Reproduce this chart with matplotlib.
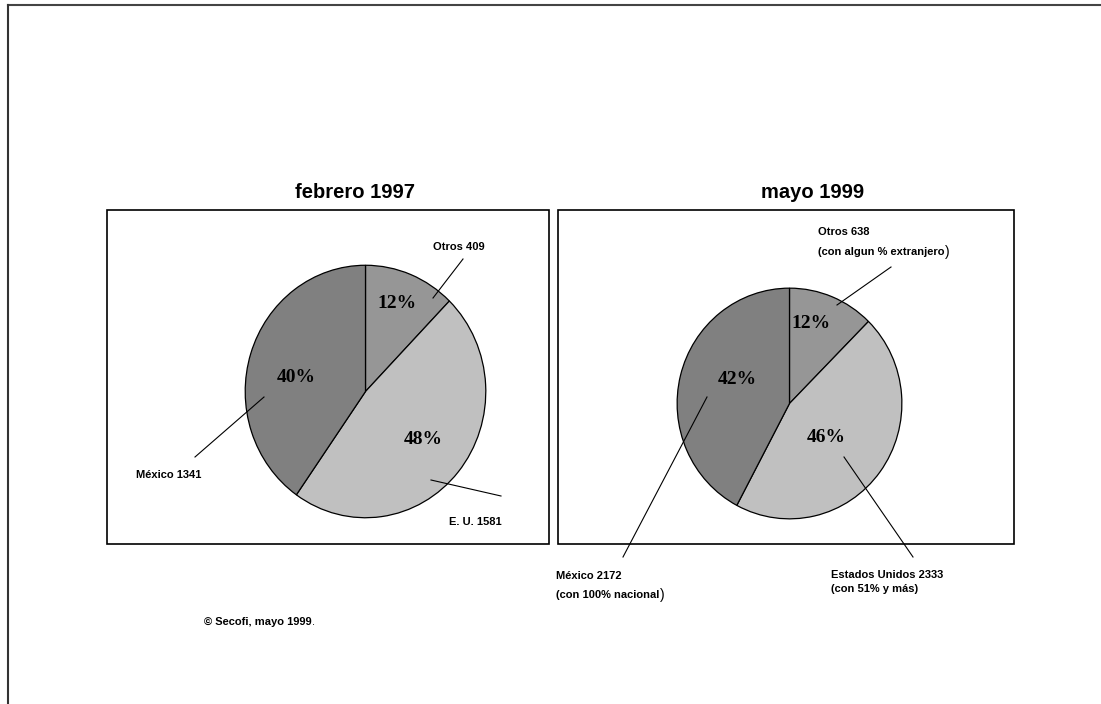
import matplotlib.pyplot as plt
from matplotlib.patches import Rectangle

# Empresas maquiladoras por origen de capital
slices = ["Otros", "Estados Unidos", "México"]
feb97 = [409, 1581, 1341]
may99 = [638, 2333, 2172]
pct_feb97 = ["12%", "48%", "40%"]
pct_may99 = ["12%", "46%", "42%"]
colors = ["#969696", "#c0c0c0", "#808080"]

W, H = 1101, 704
fig = plt.figure(figsize=(W / 100, H / 100), dpi=100)

sans = "Liberation Sans"
serif = "Liberation Serif"


def pie_axes(x0, x1, y0, y1):
    return fig.add_axes([x0 / W, 1 - y1 / H, (x1 - x0) / W, (y1 - y0) / H])


def draw_pie(ax, values):
    ax.pie(values, colors=colors, startangle=90, counterclock=False,
           wedgeprops=dict(edgecolor="black", linewidth=0.9))
    ax.set_aspect("auto")
    ax.set_xlim(-1.01, 1.01)
    ax.set_ylim(-1.01, 1.01)


ax1 = pie_axes(244, 487, 264, 519)
draw_pie(ax1, feb97)
ax2 = pie_axes(676, 903, 287, 520)
draw_pie(ax2, may99)

# overlay axes in pixel units (y down) for frame, boxes, lines and text
bg = fig.add_axes([0, 0, 1, 1])
bg.set_xlim(0, W)
bg.set_ylim(H, 0)
bg.axis("off")
bg.patch.set_alpha(0)

# page frame
bg.plot([8, W], [5, 5], color="#444444", lw=1.5)
bg.plot([8, 8], [5, H], color="#333333", lw=1.5)

# panel boxes
bg.add_patch(Rectangle((107, 210), 442, 334, fill=False, ec="black", lw=1.2))
bg.add_patch(Rectangle((558, 210), 456, 334, fill=False, ec="black", lw=1.2))

bg.text(355, 192, "febrero 1997", ha="center", va="center",
        family=sans, weight="bold", fontsize=14.5)
bg.text(813, 192, "mayo 1999", ha="center", va="center",
        family=sans, weight="bold", fontsize=14.5)

for pcts, centers in [(pct_feb97, [(397, 304), (423, 439), (296, 378)]),
                      (pct_may99, [(811, 324), (826, 438), (737, 380)])]:
    for p, (px, py) in zip(pcts, centers):
        bg.text(px, py, p, ha="center", va="center", family=serif,
                weight="bold", fontsize=14)

fs = 8
lbl = dict(family=sans, weight="bold", fontsize=fs, va="center")

# leader lines
leaders = [
    ((433, 298), (463, 259)),
    ((264, 397), (195, 457)),
    ((431, 480), (501, 496)),
    ((837, 305), (891, 267)),
    ((707, 397), (623, 557)),
    ((844, 457), (913, 557)),
]
for (xa, ya), (xb, yb) in leaders:
    bg.plot([xa, xb], [ya, yb], color="black", lw=0.8)

bg.text(459, 247, f"Otros {feb97[0]}", ha="center", **lbl)
bg.text(136, 475, f"México {feb97[2]}", ha="left", **lbl)
bg.text(502, 522, f"E. U. {feb97[1]}", ha="right", **lbl)

bg.text(818, 232, f"Otros {may99[0]}", ha="left", **lbl)
t1 = bg.text(818, 252, "(con algun % extranjero", ha="left", **lbl)
bg.text(556, 576, f"México {may99[2]}", ha="left", **lbl)
t2 = bg.text(556, 595, "(con 100% nacional", ha="left", **lbl)
bg.text(831, 575, f"Estados Unidos {may99[1]}", ha="left", **lbl)
bg.text(831, 589, "(con 51% y más)", ha="left", **lbl)

t3 = bg.text(204, 622, "© Secofi, mayo 1999", ha="left", **lbl)

# closing parentheses set a bit larger, the footer period in regular weight
fig.canvas.draw()
r = fig.canvas.get_renderer()
for t, s, size in ((t1, ")", 10), (t2, ")", 10), (t3, ".", fs)):
    ext = t.get_window_extent(r)
    x_pix = ext.x1 + 0.5
    y_pix = t.get_position()[1]
    bg.text(x_pix, y_pix, s, ha="left", va="center",
            family=sans, fontsize=size)

fig.savefig("out.png", dpi=100)
